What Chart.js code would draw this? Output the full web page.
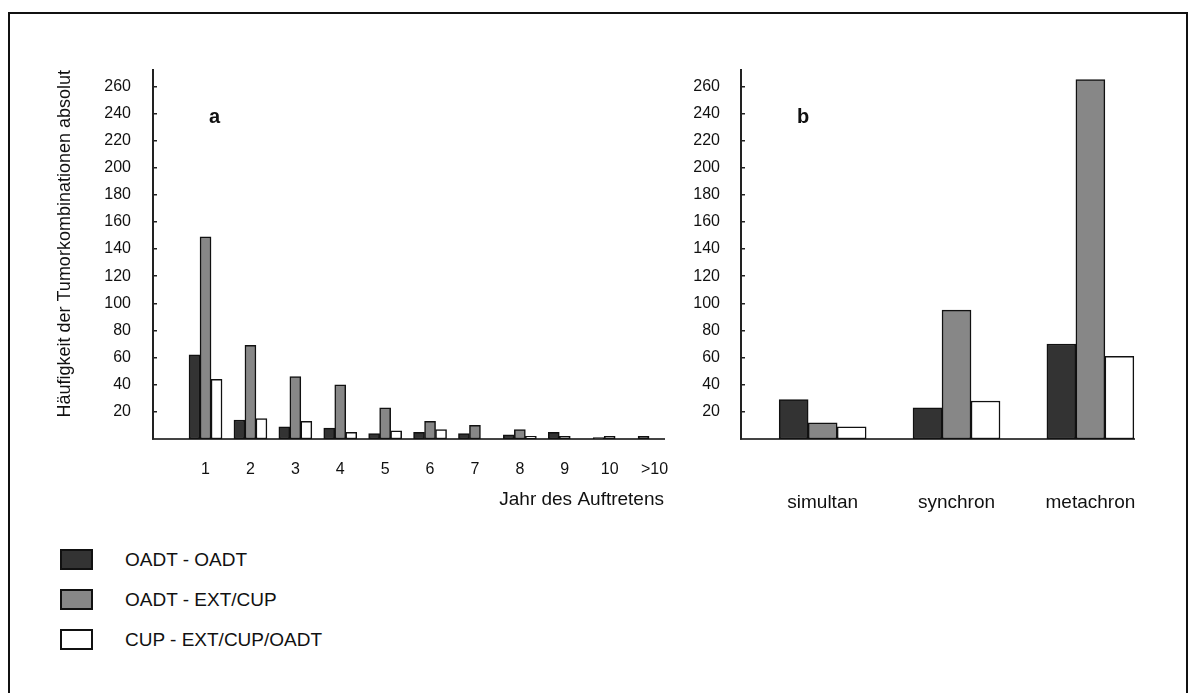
<!DOCTYPE html>
<html>
<head>
<meta charset="utf-8">
<script src="https://cdn.jsdelivr.net/npm/chart.js@4"></script>
<style>
  body { margin: 0; width: 1193px; height: 693px; background: #fff; position: relative; overflow: hidden;
         font-family: "Liberation Sans", Arial, sans-serif; color: #111; }
  #frame { position: absolute; left: 8px; top: 12px; width: 1176px; height: 720px; border: 2px solid #111; }
  .wrap { position: absolute; top: 0; }
  #wrapA { left: 0; width: 700px; height: 520px; }
  #wrapB { left: 680px; width: 513px; height: 530px; }
  .panel-tag { position: absolute; font-weight: bold; font-size: 20px; line-height: 20px; }
  .legend-row { position: absolute; left: 60px; height: 21px; display: flex; align-items: center; }
  .legend-row .sw { width: 33px; height: 21px; box-sizing: border-box; border: 2px solid #111; }
  .legend-row .txt { position: absolute; left: 65px; font-size: 19px; white-space: nowrap; }
</style>
</head>
<body>
<div id="frame"></div>
<div class="wrap" id="wrapA"><canvas id="chartA"></canvas></div>
<div class="wrap" id="wrapB"><canvas id="chartB"></canvas></div>
<div class="panel-tag" style="left:209px;top:106px">a</div>
<div class="panel-tag" style="left:797px;top:106px">b</div>
<div id="legend"></div>

<script>
// ── Data ──────────────────────────────────────────────────────────────────────
const seriesNames  = ['OADT - OADT', 'OADT - EXT/CUP', 'CUP - EXT/CUP/OADT'];
const seriesColors = ['#333333', '#878787', '#ffffff'];

// Panel a: year of occurrence
const yearLabels   = ['1', '2', '3', '4', '5', '6', '7', '8', '9', '10', '>10'];
const yearOadtOadt = [62, 14, 9, 8, 4, 5, 4, 3, 5, 1, 2];
const yearOadtExt  = [149, 69, 46, 40, 23, 13, 10, 7, 2, 2, 0];
const yearCupAll   = [44, 15, 13, 5, 6, 7, 0, 2, 0, 0, 0];

// Panel b: timing
const timingLabels   = ['simultan', 'synchron', 'metachron'];
const timingOadtOadt = [29, 23, 70];
const timingOadtExt  = [12, 95, 265];
const timingCupAll   = [9, 28, 61];

const yTicks = [20, 40, 60, 80, 100, 120, 140, 160, 180, 200, 220, 240, 260];

const FONT = '"Liberation Sans", Arial, sans-serif';
Chart.defaults.font.family = FONT;
Chart.defaults.color = '#111';

// ── Panel builder ─────────────────────────────────────────────────────────────
function makePanel(canvasId, labels, series, cfg) {
  const xs = labels.map((_, i) => i + 1);
  return new Chart(document.getElementById(canvasId), {
    type: 'bar',
    data: {
      datasets: series.map((vals, k) => ({
        label: seriesNames[k],
        data: vals.map((v, i) => ({ x: xs[i], y: v })),
        backgroundColor: seriesColors[k],
        borderColor: '#111',
        borderWidth: 1.5,
        borderSkipped: false,
        barThickness: cfg.barWidth
      }))
    },
    options: {
      responsive: true,
      maintainAspectRatio: false,
      animation: false,
      layout: { padding: cfg.padding },
      plugins: { legend: { display: false }, tooltip: { enabled: false } },
      scales: {
        x: {
          type: 'linear',
          offset: false,
          min: cfg.xMin,
          max: cfg.xMax,
          afterBuildTicks: (s) => { s.ticks = xs.map(v => ({ value: v })); },
          afterFit: (s) => { s.height = cfg.xHeight; },
          grid: { display: false, drawTicks: false },
          border: { display: true, color: '#444', width: 2 },
          ticks: {
            autoSkip: false, maxRotation: 0,
            padding: cfg.xPad,
            font: { size: cfg.xFont },
            callback: (v, i) => labels[i]
          },
          title: cfg.xTitle ? {
            display: true, text: cfg.xTitle, align: 'end',
            font: { size: 19 }, padding: { top: 0, bottom: 4 }
          } : { display: false }
        },
        y: {
          min: 0,
          max: 272,
          afterBuildTicks: (s) => { s.ticks = yTicks.map(v => ({ value: v })); },
          afterFit: (s) => { s.width = cfg.yWidth; },
          grid: { drawOnChartArea: false, drawTicks: true, tickLength: -4, color: '#222', lineWidth: 1.5 },
          border: { display: true, color: '#222', width: 2 },
          ticks: { padding: cfg.yPad, font: { size: 16 } },
          title: cfg.yTitle ? {
            display: true, text: cfg.yTitle, align: 'end',
            font: { size: 18 }, padding: { top: 0, bottom: 0 }
          } : { display: false }
        }
      }
    }
  });
}

makePanel('chartA', yearLabels, [yearOadtOadt, yearOadtExt, yearCupAll], {
  barWidth: 11,
  padding: { top: 70, left: 54, right: 36, bottom: 5 },
  xMin: -0.17, xMax: 11.21,
  xHeight: 76, xPad: 21, xFont: 16,
  xTitle: 'Jahr des Auftretens',
  yWidth: 99, yPad: 26,
  yTitle: 'Häufigkeit der Tumorkombinationen absolut'
});

makePanel('chartB', timingLabels, [timingOadtOadt, timingOadtExt, timingCupAll], {
  barWidth: 29,
  padding: { top: 70, left: 0, right: 51, bottom: 11 },
  xMin: 0.39, xMax: 3.33,
  xHeight: 80, xPad: 52, xFont: 19,
  xTitle: null,
  yWidth: 61, yPad: 25,
  yTitle: null
});

// ── Legend ────────────────────────────────────────────────────────────────────
const legendTops = [549, 589, 629];
document.getElementById('legend').innerHTML = seriesNames.map((name, k) => `
  <div class="legend-row" style="top:${legendTops[k]}px">
    <div class="sw" style="background:${seriesColors[k]}"></div>
    <div class="txt">${name}</div>
  </div>`).join('');
</script>
</body>
</html>
